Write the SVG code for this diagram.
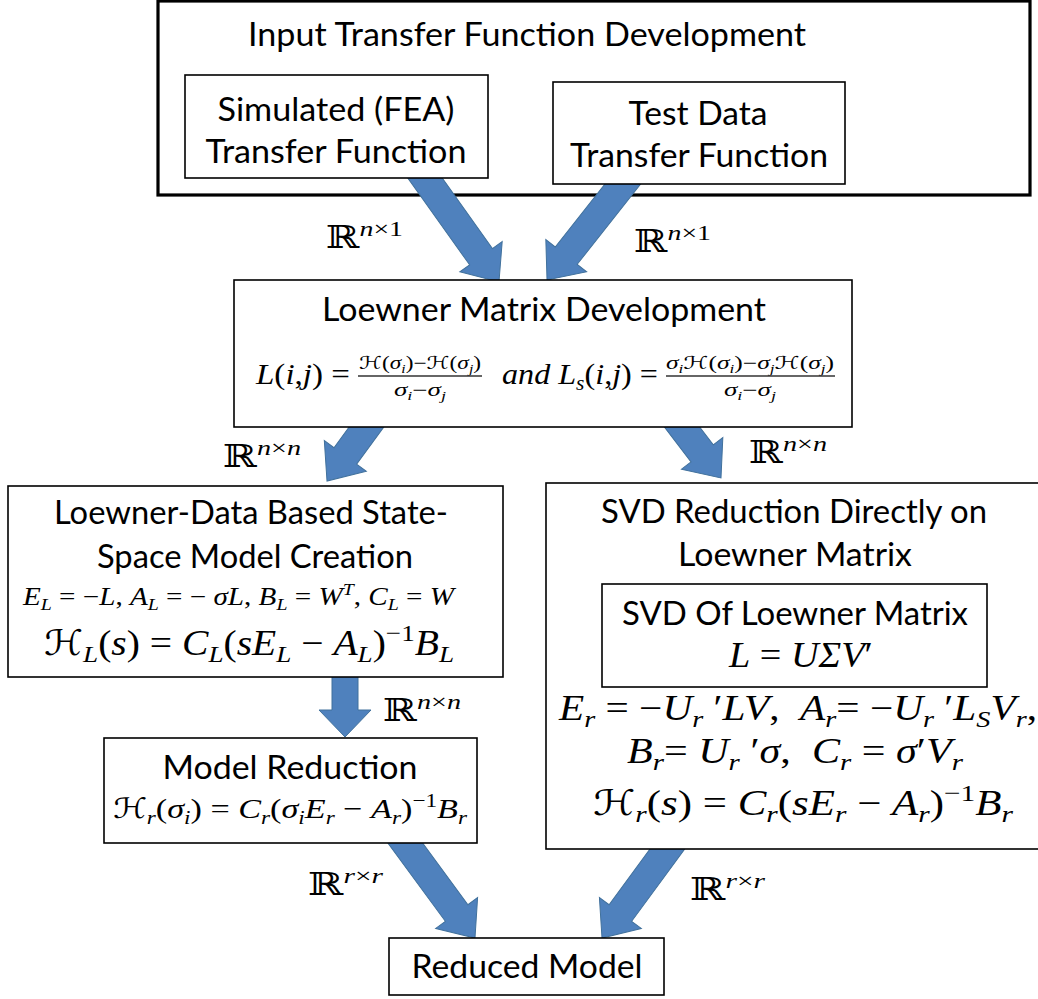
<svg xmlns="http://www.w3.org/2000/svg" width="1038" height="999" viewBox="0 0 1038 999">
<style>
.box{fill:#fff;stroke:#000;stroke-width:1.6}
.outer{fill:#fff;stroke:#000;stroke-width:3.2}
.t{font-family:Lato,'Liberation Sans',sans-serif;font-size:33px;fill:#000;text-anchor:middle}
.m{font-family:'Liberation Serif','DejaVu Serif',serif;fill:#000}
.c{text-anchor:middle}
.i{font-style:italic}
.bb{font-family:'DejaVu Serif',serif;font-style:normal}
.h{font-family:'DejaVu Sans',sans-serif;font-style:normal}
.arrow{fill:#4f81bd;stroke:#41719c;stroke-width:1}
.bar{stroke:#333;stroke-width:1.4}
</style>

<!-- outer container -->
<g id="input-tf">
  <rect class="outer" x="158" y="1" width="872" height="194"/>
  <text class="t" x="527" y="46" textLength="558" lengthAdjust="spacingAndGlyphs">Input Transfer Function Development</text>
</g>

<!-- block arrows: local frame points down (+y), tip at (0,len) -->
<g id="connectors">
  <polygon class="arrow" transform="translate(425,178) rotate(-35.43)" points="-14,-25 14,-25 14,96.6 26,96.6 0,127.6 -26,96.6 -14,96.6"/>
  <polygon class="arrow" transform="translate(622,185) rotate(38.29)" points="-14,-25 14,-25 14,90 26,90 0,121 -26,90 -14,90"/>
  <polygon class="arrow" transform="translate(366.5,427) rotate(36.18)" points="-14,-25 14,-25 14,35.9 26,35.9 0,66.9 -26,35.9 -14,35.9"/>
  <polygon class="arrow" transform="translate(682,427) rotate(-37.4)" points="-14,-25 14,-25 14,33.2 26,33.2 0,64.2 -26,33.2 -14,33.2"/>
  <polygon class="arrow" transform="translate(345,677)" points="-13,-25 13,-25 13,33 26,33 0,60 -26,33 -13,33"/>
  <polygon class="arrow" transform="translate(403,840) rotate(-36.3)" points="-14,-25 14,-25 14,90.6 26,90.6 0,121.6 -26,90.6 -14,90.6"/>
  <polygon class="arrow" transform="translate(674,840) rotate(36.3)" points="-14,-25 14,-25 14,90.6 26,90.6 0,121.6 -26,90.6 -14,90.6"/>

  <!-- dimension labels -->
  <text class="m" x="326" y="248" font-size="32" textLength="77" lengthAdjust="spacingAndGlyphs"><tspan class="bb">ℝ</tspan><tspan dy="-12" font-size="22" class="i">n</tspan><tspan font-size="22">×1</tspan></text>
  <text class="m" x="634" y="252" font-size="32" textLength="77" lengthAdjust="spacingAndGlyphs"><tspan class="bb">ℝ</tspan><tspan dy="-12" font-size="22" class="i">n</tspan><tspan font-size="22">×1</tspan></text>
  <text class="m" x="223" y="467" font-size="32" textLength="78" lengthAdjust="spacingAndGlyphs"><tspan class="bb">ℝ</tspan><tspan dy="-12" font-size="22" class="i">n</tspan><tspan font-size="22">×</tspan><tspan font-size="22" class="i">n</tspan></text>
  <text class="m" x="749" y="463" font-size="32" textLength="78" lengthAdjust="spacingAndGlyphs"><tspan class="bb">ℝ</tspan><tspan dy="-12" font-size="22" class="i">n</tspan><tspan font-size="22">×</tspan><tspan font-size="22" class="i">n</tspan></text>
  <text class="m" x="383" y="721" font-size="32" textLength="78" lengthAdjust="spacingAndGlyphs"><tspan class="bb">ℝ</tspan><tspan dy="-12" font-size="22" class="i">n</tspan><tspan font-size="22">×</tspan><tspan font-size="22" class="i">n</tspan></text>
  <text class="m" x="308" y="895" font-size="32" textLength="75" lengthAdjust="spacingAndGlyphs"><tspan class="bb">ℝ</tspan><tspan dy="-12" font-size="22" class="i">r</tspan><tspan font-size="22">×</tspan><tspan font-size="22" class="i">r</tspan></text>
  <text class="m" x="690" y="900" font-size="32" textLength="75" lengthAdjust="spacingAndGlyphs"><tspan class="bb">ℝ</tspan><tspan dy="-12" font-size="22" class="i">r</tspan><tspan font-size="22">×</tspan><tspan font-size="22" class="i">r</tspan></text>
</g>

<g id="simulated-tf">
  <rect class="box" x="185" y="75" width="303" height="103"/>
  <text class="t" x="336" y="121" textLength="237" lengthAdjust="spacingAndGlyphs">Simulated (FEA)</text>
  <text class="t" x="336" y="163" textLength="261" lengthAdjust="spacingAndGlyphs">Transfer Function</text>
</g>

<g id="test-data-tf">
  <rect class="box" x="553" y="82" width="292" height="102"/>
  <text class="t" x="698" y="125" textLength="139" lengthAdjust="spacingAndGlyphs">Test Data</text>
  <text class="t" x="699" y="167" textLength="258" lengthAdjust="spacingAndGlyphs">Transfer Function</text>
</g>

<g id="loewner-matrix">
  <rect class="box" x="234" y="280" width="618" height="147"/>
  <text class="t" x="544" y="321" textLength="444" lengthAdjust="spacingAndGlyphs">Loewner Matrix Development</text>
  <text class="m" x="256" y="384" font-size="30" textLength="94" lengthAdjust="spacingAndGlyphs"><tspan class="i">L</tspan>(<tspan class="i">i</tspan>,<tspan class="i">j</tspan>) =</text>
  <text class="m c" x="420" y="369" font-size="18" textLength="122" lengthAdjust="spacingAndGlyphs"><tspan class="h">ℋ</tspan>(<tspan class="i">σ</tspan><tspan dy="4" font-size="12" class="i">i</tspan><tspan dy="-4">)−</tspan><tspan class="h">ℋ</tspan>(<tspan class="i">σ</tspan><tspan dy="4" font-size="12" class="i">j</tspan><tspan dy="-4">)</tspan></text>
  <line class="bar" x1="358" y1="376" x2="482" y2="376"/>
  <text class="m c" x="420" y="396" font-size="18" textLength="52" lengthAdjust="spacingAndGlyphs"><tspan class="i">σ</tspan><tspan dy="4" font-size="12" class="i">i</tspan><tspan dy="-4">−</tspan><tspan class="i">σ</tspan><tspan dy="4" font-size="12" class="i">j</tspan></text>
  <text class="m" x="502" y="384" font-size="30" textLength="156" lengthAdjust="spacingAndGlyphs"><tspan class="i">and L</tspan><tspan dy="6" font-size="20" class="i">s</tspan><tspan dy="-6">(</tspan><tspan class="i">i</tspan>,<tspan class="i">j</tspan>) =</text>
  <text class="m c" x="750" y="369" font-size="18" textLength="168" lengthAdjust="spacingAndGlyphs"><tspan class="i">σ</tspan><tspan dy="4" font-size="12" class="i">i</tspan><tspan dy="-4" class="h">ℋ</tspan>(<tspan class="i">σ</tspan><tspan dy="4" font-size="12" class="i">i</tspan><tspan dy="-4">)−</tspan><tspan class="i">σ</tspan><tspan dy="4" font-size="12" class="i">j</tspan><tspan dy="-4" class="h">ℋ</tspan>(<tspan class="i">σ</tspan><tspan dy="4" font-size="12" class="i">j</tspan><tspan dy="-4">)</tspan></text>
  <line class="bar" x1="666" y1="376" x2="835" y2="376"/>
  <text class="m c" x="750" y="396" font-size="18" textLength="52" lengthAdjust="spacingAndGlyphs"><tspan class="i">σ</tspan><tspan dy="4" font-size="12" class="i">i</tspan><tspan dy="-4">−</tspan><tspan class="i">σ</tspan><tspan dy="4" font-size="12" class="i">j</tspan></text>
</g>

<g id="loewner-state-space">
  <rect class="box" x="8" y="486" width="495" height="191"/>
  <text class="t" x="251" y="524" textLength="394" lengthAdjust="spacingAndGlyphs">Loewner-Data Based State-</text>
  <text class="t" x="255" y="568" textLength="316" lengthAdjust="spacingAndGlyphs">Space Model Creation</text>
  <text class="m" x="23" y="605" font-size="25" textLength="431" lengthAdjust="spacingAndGlyphs"><tspan class="i">E</tspan><tspan dy="5" font-size="17" class="i">L</tspan><tspan dy="-5"> = −</tspan><tspan class="i">L</tspan>, <tspan class="i">A</tspan><tspan dy="5" font-size="17" class="i">L</tspan><tspan dy="-5"> = − </tspan><tspan class="i">σL</tspan>, <tspan class="i">B</tspan><tspan dy="5" font-size="17" class="i">L</tspan><tspan dy="-5"> = </tspan><tspan class="i">W</tspan><tspan dy="-10" font-size="17" class="i">T</tspan><tspan dy="10">, </tspan><tspan class="i">C</tspan><tspan dy="5" font-size="17" class="i">L</tspan><tspan dy="-5"> = </tspan><tspan class="i">W</tspan></text>
  <text class="m" x="44" y="655" font-size="35" textLength="410" lengthAdjust="spacingAndGlyphs"><tspan class="h">ℋ</tspan><tspan dy="7" font-size="24" class="i">L</tspan><tspan dy="-7">(</tspan><tspan class="i">s</tspan>) = <tspan class="i">C</tspan><tspan dy="7" font-size="24" class="i">L</tspan><tspan dy="-7">(</tspan><tspan class="i">sE</tspan><tspan dy="7" font-size="24" class="i">L</tspan><tspan dy="-7"> − </tspan><tspan class="i">A</tspan><tspan dy="7" font-size="24" class="i">L</tspan><tspan dy="-7">)</tspan><tspan dy="-14" font-size="24">−1</tspan><tspan dy="14" class="i">B</tspan><tspan dy="7" font-size="24" class="i">L</tspan></text>
</g>

<g id="svd-reduction">
  <rect class="box" x="546" y="483" width="500" height="366"/>
  <text class="t" x="794" y="523" textLength="386" lengthAdjust="spacingAndGlyphs">SVD Reduction Directly on</text>
  <text class="t" x="795" y="566" textLength="234" lengthAdjust="spacingAndGlyphs">Loewner Matrix</text>
  <rect class="box" x="602" y="584" width="385" height="103"/>
  <text class="t" x="795" y="625" textLength="346" lengthAdjust="spacingAndGlyphs">SVD Of Loewner Matrix</text>
  <text class="m" x="729" y="667" font-size="35" textLength="144" lengthAdjust="spacingAndGlyphs"><tspan class="i">L</tspan> = <tspan class="i">UΣV</tspan>′</text>
  <text class="m" x="559" y="720" font-size="35" textLength="478" lengthAdjust="spacingAndGlyphs"><tspan class="i">E</tspan><tspan dy="7" font-size="24" class="i">r</tspan><tspan dy="-7"> = −</tspan><tspan class="i">U</tspan><tspan dy="7" font-size="24" class="i">r</tspan><tspan dy="-7"> ′</tspan><tspan class="i">LV</tspan>,&#160; <tspan class="i">A</tspan><tspan dy="7" font-size="24" class="i">r</tspan><tspan dy="-7">= −</tspan><tspan class="i">U</tspan><tspan dy="7" font-size="24" class="i">r</tspan><tspan dy="-7"> ′</tspan><tspan class="i">L</tspan><tspan dy="7" font-size="24" class="i">S</tspan><tspan dy="-7" class="i">V</tspan><tspan dy="7" font-size="24" class="i">r</tspan><tspan dy="-7">,</tspan></text>
  <text class="m" x="627" y="763" font-size="35" textLength="336" lengthAdjust="spacingAndGlyphs"><tspan class="i">B</tspan><tspan dy="7" font-size="24" class="i">r</tspan><tspan dy="-7">= </tspan><tspan class="i">U</tspan><tspan dy="7" font-size="24" class="i">r</tspan><tspan dy="-7"> ′</tspan><tspan class="i">σ</tspan>,&#160; <tspan class="i">C</tspan><tspan dy="7" font-size="24" class="i">r</tspan><tspan dy="-7"> = </tspan><tspan class="i">σ</tspan>′<tspan class="i">V</tspan><tspan dy="7" font-size="24" class="i">r</tspan></text>
  <text class="m" x="593" y="815" font-size="35" textLength="420" lengthAdjust="spacingAndGlyphs"><tspan class="h">ℋ</tspan><tspan dy="7" font-size="24" class="i">r</tspan><tspan dy="-7">(</tspan><tspan class="i">s</tspan>) = <tspan class="i">C</tspan><tspan dy="7" font-size="24" class="i">r</tspan><tspan dy="-7">(</tspan><tspan class="i">sE</tspan><tspan dy="7" font-size="24" class="i">r</tspan><tspan dy="-7"> − </tspan><tspan class="i">A</tspan><tspan dy="7" font-size="24" class="i">r</tspan><tspan dy="-7">)</tspan><tspan dy="-14" font-size="24">−1</tspan><tspan dy="14" class="i">B</tspan><tspan dy="7" font-size="24" class="i">r</tspan></text>
</g>

<g id="model-reduction">
  <rect class="box" x="104" y="738" width="373" height="105"/>
  <text class="t" x="290" y="779" textLength="255" lengthAdjust="spacingAndGlyphs">Model Reduction</text>
  <text class="m" x="113" y="818" font-size="28" textLength="354" lengthAdjust="spacingAndGlyphs"><tspan class="h">ℋ</tspan><tspan dy="6" font-size="19" class="i">r</tspan><tspan dy="-6">(</tspan><tspan class="i">σ</tspan><tspan dy="6" font-size="19" class="i">i</tspan><tspan dy="-6">) = </tspan><tspan class="i">C</tspan><tspan dy="6" font-size="19" class="i">r</tspan><tspan dy="-6">(</tspan><tspan class="i">σ</tspan><tspan dy="6" font-size="19" class="i">i</tspan><tspan dy="-6" class="i">E</tspan><tspan dy="6" font-size="19" class="i">r</tspan><tspan dy="-6"> − </tspan><tspan class="i">A</tspan><tspan dy="6" font-size="19" class="i">r</tspan><tspan dy="-6">)</tspan><tspan dy="-11" font-size="19">−1</tspan><tspan dy="11" class="i">B</tspan><tspan dy="6" font-size="19" class="i">r</tspan></text>
</g>

<g id="reduced-model">
  <rect class="box" x="389" y="938" width="275" height="57"/>
  <text class="t" x="527" y="978" textLength="231" lengthAdjust="spacingAndGlyphs">Reduced Model</text>
</g>
</svg>
